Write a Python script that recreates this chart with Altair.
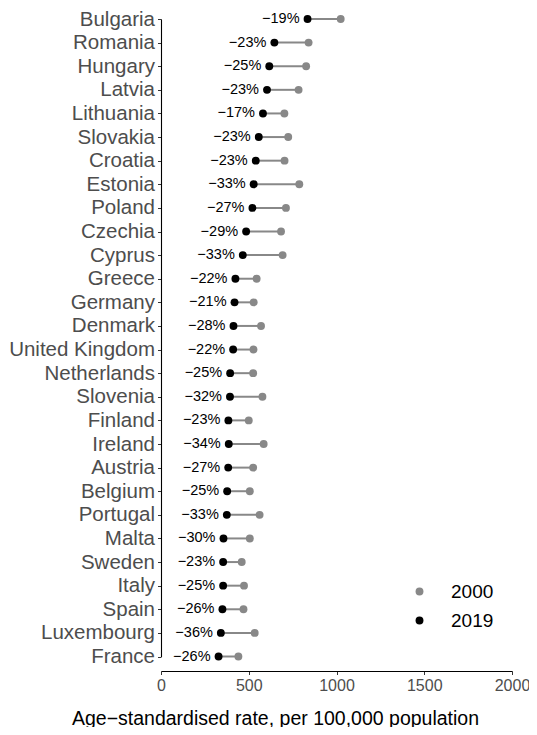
import altair as alt
import pandas as pd

countries = ["Bulgaria", "Romania", "Hungary", "Latvia", "Lithuania", "Slovakia",
             "Croatia", "Estonia", "Poland", "Czechia", "Cyprus", "Greece", "Germany",
             "Denmark", "United Kingdom", "Netherlands", "Slovenia", "Finland", "Ireland",
             "Austria", "Belgium", "Portugal", "Malta", "Sweden", "Italy", "Spain",
             "Luxembourg", "France"]
rate_2000 = [1024, 841, 827, 784, 703, 725, 704, 788, 712, 684, 693, 545, 528,
             570, 527, 525, 578, 500, 585, 525, 506, 562, 506, 460, 473, 470, 534, 441]
rate_2019 = [835, 646, 617, 604, 581, 557, 540, 528, 521, 485, 466, 424, 419,
             413, 411, 394, 393, 384, 386, 383, 377, 375, 356, 354, 354, 350, 341, 328]
change_labels = ["−19%", "−23%", "−25%", "−23%", "−17%", "−23%", "−23%", "−33%", "−27%",
                 "−29%", "−33%", "−22%", "−21%", "−28%", "−22%", "−25%", "−32%", "−23%",
                 "−34%", "−27%", "−25%", "−33%", "−30%", "−23%", "−25%", "−26%", "−36%", "−26%"]
years = ["2000", "2019"]
year_colors = ["#888888", "#000000"]
x_ticks = [0, 500, 1000, 1500, 2000]

wide = pd.DataFrame({"country": countries, "r2000": rate_2000, "r2019": rate_2019,
                     "label": change_labels})
long = pd.concat([
    pd.DataFrame({"country": countries, "rate": rate_2000, "year": years[0]}),
    pd.DataFrame({"country": countries, "rate": rate_2019, "year": years[1]}),
])

y_enc = alt.Y("country:N", sort=countries,
              scale=alt.Scale(type="point", range=[11, 648.5], padding=0),
              axis=alt.Axis(title=None, labelFontSize=20.5, labelColor="#4D4D4D",
                            labelFont="Liberation Sans", tickSize=3.5, tickColor="#333333",
                            labelPadding=3, domainColor="#000000", domainWidth=1.1,
                            grid=False))
x_scale = alt.Scale(domain=[0, 2000], nice=False, zero=True)
x_axis = alt.Axis(title="Age−standardised rate, per 100,000 population", values=x_ticks,
                  format="d",
                  labelFontSize=16, labelColor="#4D4D4D", labelFont="Liberation Sans",
                  tickSize=3.5, tickColor="#333333", labelPadding=3,
                  domainColor="#000000", domainWidth=1.1, grid=False,
                  titleFontSize=19.5, titleFont="Liberation Sans", titleColor="#000000",
                  titleFontWeight="normal", titleX=114, titleY=47, titleAlign="center",
                  titleBaseline="middle", labelFlush=False)

rules = alt.Chart(wide).mark_rule(color="#888888", strokeWidth=2).encode(
    y=y_enc,
    x=alt.X("r2000:Q", scale=x_scale, axis=x_axis),
    x2="r2019:Q",
)

points = alt.Chart(long).mark_circle(size=62, opacity=1).encode(
    y=alt.Y("country:N", sort=countries),
    x=alt.X("rate:Q"),
    color=alt.Color("year:N", scale=alt.Scale(domain=years, range=year_colors),
                    legend=alt.Legend(title=None, orient="none", legendX=249, legendY=574,
                                      labelFontSize=19, labelFont="Liberation Sans",
                                      labelColor="#000000", symbolSize=62,
                                      symbolType="circle", rowPadding=9, labelOffset=22,
                                      padding=0)),
)

texts = alt.Chart(wide).mark_text(align="right", baseline="middle", dx=-8, fontSize=14.5,
                                  font="Liberation Sans", color="#000000").encode(
    y=alt.Y("country:N", sort=countries),
    x=alt.X("r2019:Q"),
    text="label:N",
)

chart = alt.layer(rules, points, texts).properties(
    width=351, height=663, autosize="none", background="white",
    padding={"left": 153, "top": 0, "right": 17, "bottom": 56},
).configure_view(strokeWidth=0, stroke=None)

chart.save("out.html", embed_options={"renderer": "svg", "actions": False})
